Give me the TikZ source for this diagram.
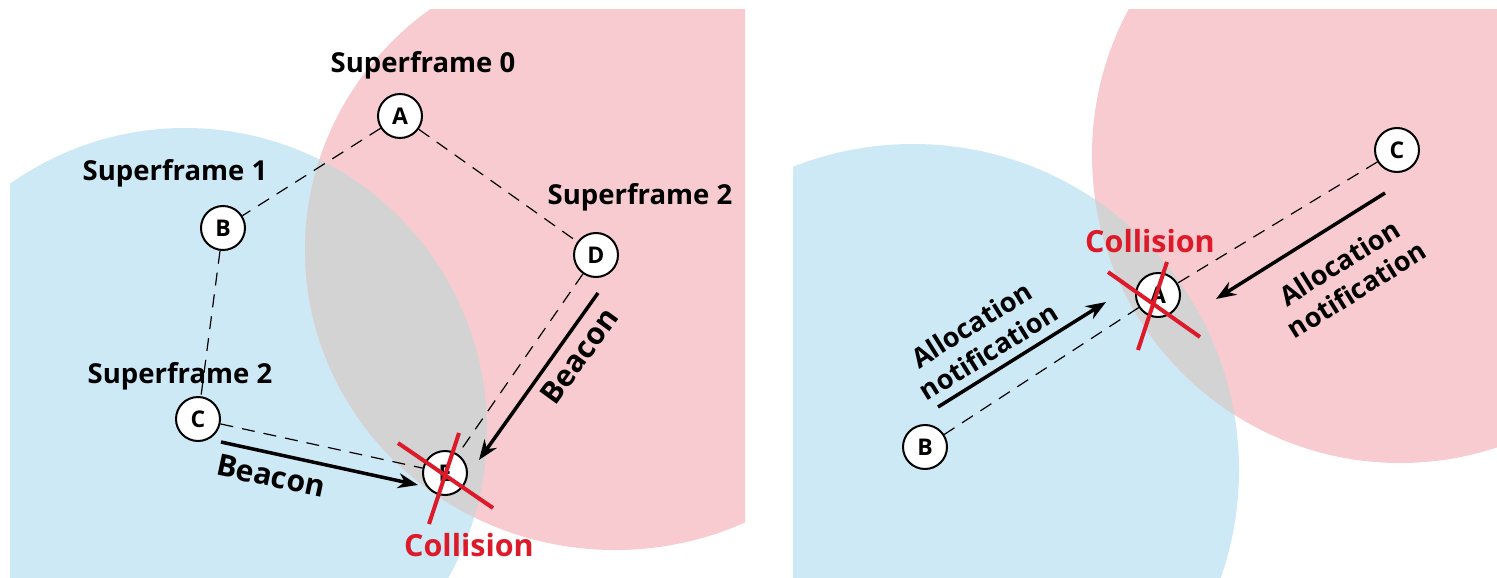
\documentclass[tikz,border=0pt]{standalone}
\usepackage{fontspec}
\setmainfont{Open Sans}
\usetikzlibrary{arrows.meta}
\definecolor{pinkc}{HTML}{F8CBD0}
\definecolor{bluec}{HTML}{CDE9F6}
\definecolor{grayc}{HTML}{D3D3D3}
\definecolor{redc}{HTML}{DC1A2A}
\begin{document}
\begin{tikzpicture}[x=1pt,y=-1pt,
  nodec/.style={circle,draw,line width=2pt,fill=white,minimum size=44pt,inner sep=0pt,font=\fontsize{23}{23}\selectfont\bfseries},
  lbl/.style={font=\fontsize{27.5}{30}\selectfont\bfseries},
  bcn/.style={font=\fontsize{30}{30}\selectfont\bfseries},
  two/.style={font=\fontsize{27}{32}\selectfont\bfseries,align=center,rotate=32},
  link/.style={line width=1.2pt,dash pattern=on 13pt off 9pt},
  msg/.style={line width=3.5pt,-{Stealth[length=20pt,width=15pt]}},
  cross/.style={line width=4pt,redc},
  coll/.style={font=\fontsize{30.5}{30}\selectfont\bfseries,text=redc}]
\useasboundingbox (0,0) rectangle (1497,578);
% ---------- left panel ----------
\begin{scope}
  \clip (10,10) rectangle (745,578);
  \fill[bluec] (185,430) circle (302pt);
  \fill[pinkc] (615,250) ellipse (310pt and 300pt);
  \begin{scope}
    \clip (185,430) circle (302pt);
    \fill[grayc] (615,250) ellipse (310pt and 300pt);
  \end{scope}
\end{scope}
\node[nodec] (lA) at (400,116) {A};
\node[nodec] (lB) at (223,228) {B};
\node[nodec] (lC) at (198,419) {C};
\node[nodec] (lD) at (596,255) {D};
\node[nodec] (lE) at (445,473) {E};
\draw[link] (lA) -- (lB);
\draw[link] (lA) -- (lD);
\draw[link] (lB) -- (lC);
\draw[link] (lC) -- (lE);
\draw[link] (lD) -- (lE);
\node[lbl] (s0) at (423,65) {Superframe 0};
\node[lbl] (s1) at (175,173) {Superframe 1};
\node[lbl] (s2a) at (640,197) {Superframe 2};
\node[lbl] (s2b) at (180,376) {Superframe 2};
\coordinate (c1s) at (221,442);
\coordinate (c1e) at (418,485);
\draw[msg] (c1s) -- (c1e);
\coordinate (c2s) at (598,293);
\coordinate (c2e) at (479,460);
\draw[msg] (c2s) -- (c2e);
\node[bcn,rotate=-12] (b1) at (271,476) {Beacon};
\node[bcn,rotate=54] (b2) at (579,356) {Beacon};
\draw[cross] (398,443) -- (493,508);
\draw[cross] (459,433) -- (429,524);
\node[coll] (col1) at (469,545) {Collision};
% ---------- right panel ----------
\begin{scope}
  \clip (793,10) rectangle (1497,578);
  \fill[bluec] (913,470) circle (326pt);
  \fill[pinkc] (1400,155) circle (308pt);
  \begin{scope}
    \clip (913,470) circle (326pt);
    \fill[grayc] (1400,155) circle (308pt);
  \end{scope}
\end{scope}
\node[nodec] (rC) at (1397,150) {C};
\node[nodec] (rA) at (1158,295) {A};
\node[nodec] (rB) at (925,447) {B};
\draw[link] (rC) -- (rA);
\draw[link] (rA) -- (rB);
\coordinate (r1s) at (938,407);
\coordinate (r1e) at (1106,302);
\draw[msg] (r1s) -- (r1e);
\coordinate (r2s) at (1385,193);
\coordinate (r2e) at (1216,299);
\draw[msg] (r2s) -- (r2e);
\node[two] (al1) at (980,338) {Allocation\\notification};
\node[two] (al2) at (1348,276) {Allocation\\notification};
\draw[cross] (1108,272) -- (1200,337);
\draw[cross] (1167,262) -- (1138,350);
\node[coll] (col2) at (1150,241) {Collision};
\end{tikzpicture}
\end{document}
